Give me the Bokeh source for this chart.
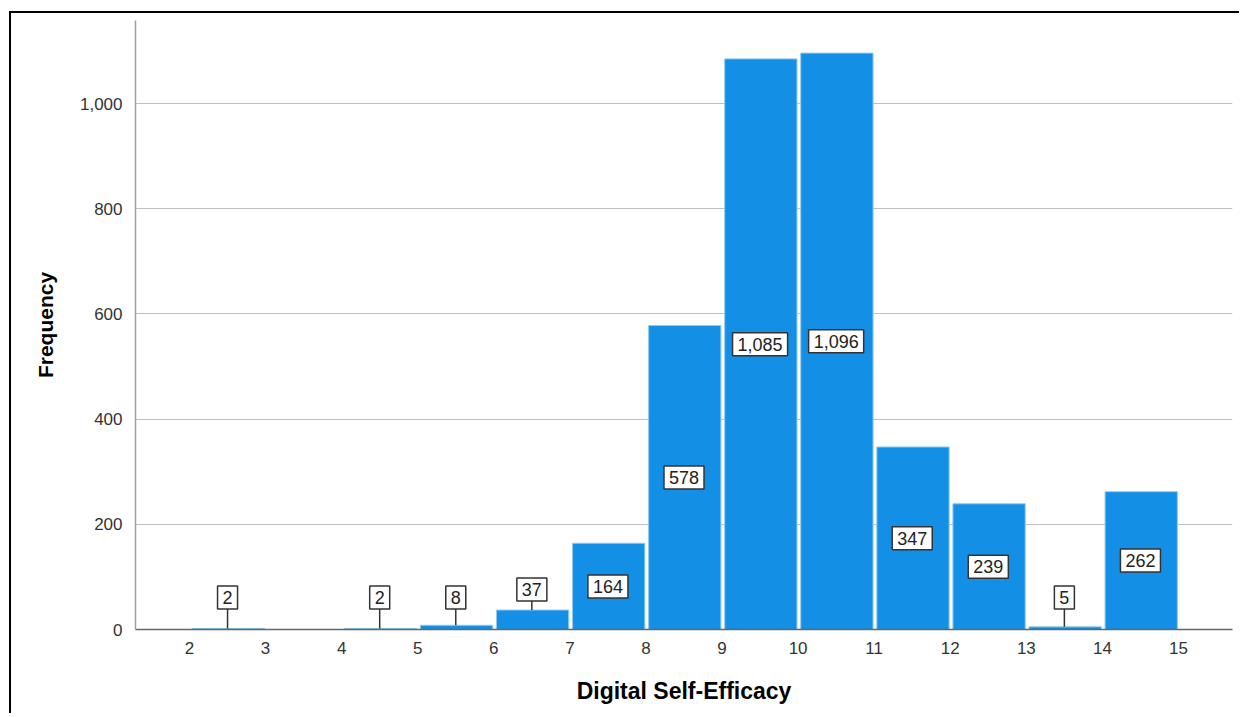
from bokeh.plotting import figure
from bokeh.models import ColumnDataSource, Range1d, FixedTicker, NumeralTickFormatter
from bokeh.core.properties import value
from bokeh.embed import file_html
from bokeh.resources import INLINE

# ---- data ----
bin_starts = [2, 3, 4, 5, 6, 7, 8, 9, 10, 11, 12, 13, 14]
counts = [2, 0, 2, 8, 37, 164, 578, 1085, 1096, 347, 239, 5, 262]
x_ticks = [2, 3, 4, 5, 6, 7, 8, 9, 10, 11, 12, 13, 14, 15]
y_ticks = [0, 200, 400, 600, 800, 1000]
x_title = "Digital Self-Efficacy"
y_title = "Frequency"

FONT = "Liberation Sans"
BAR = "#1390e5"

p = figure(width=1230, height=702, output_backend="svg", toolbar_location=None,
           x_range=Range1d(1.29, 15.71), y_range=Range1d(0, 1158),
           min_border_left=124, min_border_right=9, min_border_top=7, min_border_bottom=86)
p.styles = {"border-top": "2px solid black", "border-left": "2px solid black",
            "margin-top": "11px", "margin-left": "9px"}
p.outline_line_color = None
p.background_fill_color = "white"

# bars
nz = [i for i, c in enumerate(counts) if c > 0]
bars = ColumnDataSource(dict(
    left=[bin_starts[i] + 0.035 for i in nz],
    right=[bin_starts[i] + 1 - 0.015 for i in nz],
    top=[counts[i] for i in nz],
))
p.quad(left="left", right="right", bottom=0, top="top", source=bars,
       fill_color=BAR, line_color="#8cc8f2", line_width=1)

# labels
lab_x, lab_y, lab_t, seg_x, seg_y0, seg_y1 = [], [], [], [], [], []
for i in nz:
    c = counts[i]
    cx = bin_starts[i] + 0.5
    if c >= 100:
        ly = c / 2
    else:
        ly = max(c + 39, 61)
        seg_x.append(cx)
        seg_y0.append(c)
        seg_y1.append(ly - 22)
    lab_x.append(cx)
    lab_y.append(ly)
    lab_t.append(f"{c:,}")

p.segment(x0=seg_x, y0=seg_y0, x1=seg_x, y1=seg_y1, line_color="#333333", line_width=1.5)
p.text(x=lab_x, y=lab_y, text=lab_t, text_align="center", text_baseline="middle",
       text_font=value(FONT), text_font_size="18px", text_color="#222222",
       background_fill_color="white", border_line_color="#333333", border_line_width=1.5,
       padding=5)

# axes
p.xaxis.ticker = FixedTicker(ticks=x_ticks)
p.yaxis.ticker = FixedTicker(ticks=y_ticks)
p.yaxis.formatter = NumeralTickFormatter(format="0,0")
p.xgrid.grid_line_color = None
p.ygrid.ticker = FixedTicker(ticks=y_ticks)
p.ygrid.grid_line_color = "#c0c0c0"
p.ygrid.grid_line_width = 1

for ax in (p.xaxis, p.yaxis):
    ax.major_tick_in = 0
    ax.major_tick_out = 0
    ax.minor_tick_in = 0
    ax.minor_tick_out = 0
    ax.major_label_text_font = FONT
    ax.major_label_text_font_size = "17px"
    ax.major_label_text_color = "#333333"
    ax.axis_label_text_font = FONT
    ax.axis_label_text_font_style = "bold"
    ax.axis_label_text_color = "black"

p.xaxis.axis_line_color = "#666666"
p.xaxis.axis_line_width = 1.5
p.yaxis.axis_line_color = "#a0a0a0"
p.yaxis.axis_line_width = 1.5
p.xaxis.major_label_standoff = 12
p.yaxis.major_label_standoff = 13
p.xaxis.axis_label = x_title
p.yaxis.axis_label = y_title
p.xaxis.axis_label_text_font_size = "23px"
p.yaxis.axis_label_text_font_size = "21px"
p.xaxis.axis_label_standoff = 21
p.yaxis.axis_label_standoff = 20

open("out.html", "w").write(file_html(p, INLINE))
